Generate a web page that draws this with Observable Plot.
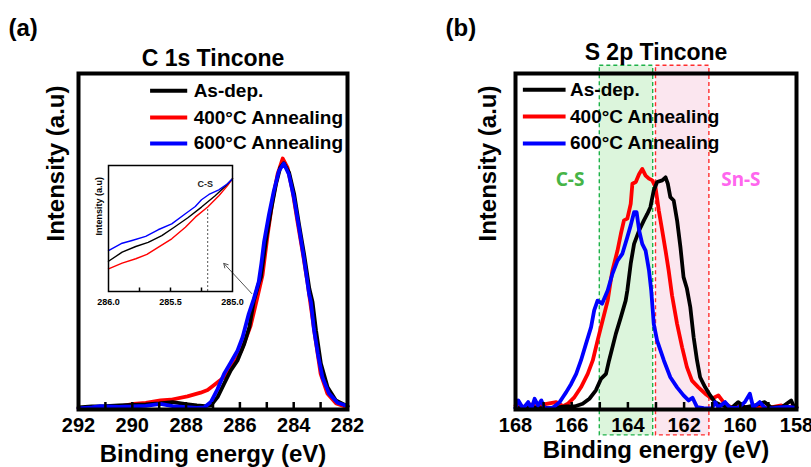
<!DOCTYPE html>
<html>
<head>
<meta charset="utf-8">
<script src="https://cdn.jsdelivr.net/npm/d3@7"></script>
<script src="https://cdn.jsdelivr.net/npm/@observablehq/plot@0.6"></script>
<style>
  html, body { margin: 0; padding: 0; background: #fff; }
  #root { position: relative; width: 811px; height: 467px; overflow: hidden; background: #fff; }
</style>
</head>
<body>
<div id="root"></div>
<script>
// ---------- data ----------
const seriesNames = ["As-dep.", "400°C Annealing", "600°C Annealing"];
const seriesColors = ["#000000", "#ff0000", "#0000ff"];

// (a) C 1s Tincone
const c1sTicks = [292, 291, 290, 289, 288, 287, 286, 285, 284, 283, 282];
const c1sTickLabels = [292, 290, 288, 286, 284, 282];

const c1sBlackEnergy = [292.0, 291.5, 291.0, 290.5, 290.0, 289.5, 289.0, 288.5, 288.0, 287.6, 287.3, 287.08, 286.83, 286.59, 286.34, 286.09, 285.84, 285.65, 285.48, 285.3, 285.22, 285.04, 284.85, 284.66, 284.5, 284.37, 284.17, 283.98, 283.8, 283.61, 283.42, 283.3, 283.17, 282.99, 282.74, 282.43, 282.06, 282.0];
const c1sBlackIntensity = [0.6, 0.9, 1.0, 1.2, 1.4, 1.5, 1.8, 2.2, 1.6, 1.2, 1.0, 1.2, 3.7, 7.6, 11.6, 14.6, 19.5, 24.5, 32.4, 37.5, 39.4, 50, 59, 67, 72, 73.3, 70.5, 64, 55, 46, 36, 32, 23.5, 13.7, 6.6, 2.7, 1.2, 1.0];

const c1sRedEnergy = [292.0, 291.5, 290.93, 290.44, 289.95, 289.5, 288.95, 288.57, 287.95, 287.46, 287.2, 286.97, 286.59, 286.22, 285.95, 285.84, 285.6, 285.35, 285.16, 284.97, 284.79, 284.6, 284.41, 284.23, 284.04, 283.86, 283.67, 283.48, 283.36, 283.2, 283.0, 282.75, 282.42, 282.1, 282.0];
const c1sRedIntensity = [0.3, 0.5, 0.7, 0.9, 1.7, 2.0, 2.7, 2.9, 3.9, 5.0, 5.8, 7.2, 9.6, 13.6, 17.5, 19.8, 25, 33.4, 40, 52, 62, 70, 74.7, 72, 65, 56, 47, 37.5, 30.5, 21.5, 10.7, 4.8, 1.8, 0.9, 0.8];

const c1sBlueEnergy = [292.0, 291.5, 291.2, 290.5, 290.0, 289.5, 288.95, 288.5, 288.0, 287.6, 287.33, 287.08, 286.83, 286.59, 286.34, 286.09, 285.9, 285.67, 285.48, 285.3, 285.2, 285.1, 284.92, 284.74, 284.55, 284.37, 284.18, 283.99, 283.8, 283.62, 283.43, 283.36, 283.25, 283.1, 282.93, 282.69, 282.37, 282.06, 282.0];
const c1sBlueIntensity = [0.3, 0.6, 1.0, 0.8, 0.9, 1.1, 1.7, 1.0, 0.7, 0.5, 0.6, 2.2, 6.1, 10.6, 14, 17.5, 21.5, 28.5, 33, 38, 43.5, 50, 58, 65, 71, 73.2, 70, 63, 54, 45, 34.5, 32, 24, 16.5, 9.5, 4.8, 2, 1.2, 1.0];

// (a) inset
const insetTicks = [285.75, 285.5, 285.25];
const insetTickLabels = [286.0, 285.5, 285.0];
const insetBlackEnergy = [286.0, 285.89, 285.78, 285.68, 285.57, 285.47, 285.36, 285.25, 285.14, 285.06, 285.0];
const insetBlackIntensity = [24, 31.2, 35.7, 39, 44.4, 51, 58.5, 67, 76, 83.3, 89.4];
const insetRedEnergy = [286.0, 285.89, 285.78, 285.69, 285.6, 285.49, 285.38, 285.3, 285.2, 285.11, 285.04, 285.0];
const insetRedIntensity = [18, 22.5, 26, 29.4, 35, 41.8, 51, 59, 67, 76, 84, 89.4];
const insetBlueEnergy = [286.0, 285.89, 285.81, 285.7, 285.6, 285.49, 285.38, 285.3, 285.25, 285.19, 285.11, 285.04, 285.0];
const insetBlueIntensity = [32.5, 38.3, 40.5, 43.7, 49, 53.7, 61.7, 67.5, 72.8, 77, 80.7, 85.5, 89.4];
const insetMarkerEnergy = [285.2];

// (b) S 2p Tincone
const s2pTicks = [168, 167, 166, 165, 164, 163, 162, 161, 160, 159, 158];
const s2pTickLabels = [168, 166, 164, 162, 160, 158];
const regionNames = ["C-S", "Sn-S"];
const regionFrom = [165.0, 163.0];
const regionTo = [163.1, 161.1];

const s2pBlackEnergy = [168.0, 167.7, 167.4, 167.1, 166.8, 166.5, 166.2, 165.9, 165.61, 165.37, 165.14, 164.96, 164.78, 164.67, 164.55, 164.43, 164.25, 164.08, 164.02, 163.9, 163.78, 163.6, 163.43, 163.31, 163.2, 163.08, 162.96, 162.78, 162.66, 162.58, 162.49, 162.37, 162.25, 162.13, 162.02, 161.9, 161.78, 161.66, 161.54, 161.43, 161.25, 161.07, 160.9, 160.66, 160.31, 160.08, 159.84, 159.48, 159.13, 158.9, 158.5, 158.19, 158.07, 158.0];
const s2pBlackIntensity = [0.5, 0.3, 0.6, 0.4, 0.5, 0.6, 0.9, 0.9, 1.7, 3.2, 5.7, 9.1, 10.6, 14.6, 18.5, 22.5, 27.5, 32.4, 35.4, 43.4, 49.3, 53.3, 56.3, 58.2, 60.2, 65.2, 67.7, 68.2, 69.1, 67.2, 63.2, 62.2, 56.3, 48.3, 39.4, 36, 30.5, 21.5, 14.6, 9.6, 6.6, 4.2, 2.2, 1.2, 0.5, 2.2, 0.6, 1.2, 2.2, 0.6, 0.8, 2.7, 0.5, 0.6];

const s2pRedEnergy = [168.0, 167.8, 167.61, 167.45, 167.26, 167.1, 166.9, 166.7, 166.55, 166.31, 166.14, 165.9, 165.67, 165.43, 165.25, 165.08, 164.9, 164.72, 164.61, 164.55, 164.37, 164.25, 164.14, 164.02, 163.9, 163.84, 163.72, 163.6, 163.49, 163.37, 163.25, 163.13, 163.02, 162.9, 162.78, 162.66, 162.55, 162.43, 162.25, 162.07, 161.9, 161.72, 161.49, 161.25, 161.01, 160.78, 160.6, 160.31, 160.0, 159.7, 159.4, 159.0, 158.54, 158.36, 158.19, 158.0];
const s2pRedIntensity = [1.2, 1.0, 0.5, 1.5, 0.9, 1.0, 1.7, 2.0, 2.2, 1.0, 1.7, 3.7, 6.6, 10.6, 14.6, 20.5, 26.5, 32.4, 38.4, 41.4, 47.3, 52.3, 56.3, 56.8, 61.2, 67.2, 67.7, 70.1, 71.6, 69.6, 68.7, 68.2, 66.2, 59.2, 53.3, 47.3, 41.4, 34, 25.5, 18.5, 12.6, 8.6, 6.6, 4.7, 3.2, 4.2, 2.2, 0.5, 1.0, 0.6, 1.0, 0.5, 1.2, 0.5, 0.9, 0.7];

const s2pBlueEnergy = [168.0, 167.9, 167.73, 167.55, 167.43, 167.32, 167.2, 167.08, 166.96, 166.8, 166.67, 166.43, 166.31, 166.2, 166.02, 165.84, 165.67, 165.49, 165.31, 165.2, 165.08, 164.92, 164.72, 164.55, 164.37, 164.2, 164.02, 163.9, 163.78, 163.69, 163.6, 163.49, 163.37, 163.25, 163.17, 163.12, 163.08, 162.96, 162.72, 162.49, 162.25, 162.02, 161.84, 161.7, 161.54, 161.3, 161.01, 160.9, 160.78, 160.54, 160.37, 160.08, 159.84, 159.66, 159.54, 159.31, 159.13, 158.9, 158.6, 158.3, 158.0];
const s2pBlueIntensity = [0.5, 2.7, 0.3, 2.2, 0.3, 3.2, 1.2, 2.7, 0.3, 0.5, 0.5, 2.2, 3.7, 5.1, 7.6, 10.6, 14.6, 19.6, 24.5, 29.5, 32.4, 31.5, 35.4, 40.4, 44.3, 46.3, 51.3, 54.8, 58.7, 58.7, 53.3, 49.3, 47.3, 41.4, 35.4, 30, 25.5, 20.5, 14.6, 9.6, 6.6, 4.2, 2.7, 3.5, 0.7, 0.4, 0.3, 2.2, 0.6, 2.2, 0.5, 0.5, 2.2, 4.7, 0.6, 2.2, 0.5, 0.3, 0.6, 0.8, 0.5];

// ---------- helpers ----------
const FONT = '"Liberation Sans", Arial, sans-serif';
const rows = (X, Y) => X.map((x, i) => ({x, y: Y[i]}));
const root = document.getElementById("root");
function place(node, left, top) {
  node.style.position = "absolute";
  node.style.left = left + "px";
  node.style.top = top + "px";
  root.appendChild(node);
}
function curves(sets, width) {
  // draw order: red, black, blue
  const order = [1, 0, 2];
  return order.map(i => Plot.line(rows(sets[i][0], sets[i][1]), {
    x: "x", y: "y", stroke: seriesColors[i], strokeWidth: width,
    strokeLinejoin: "round", strokeLinecap: "round"
  }));
}
function legendMarks(x1, x2, xt, ys) {
  return seriesNames.flatMap((name, i) => [
    Plot.ruleY([ys[i]], {y: d => d, x1, x2, stroke: seriesColors[i], strokeWidth: 4}),
    Plot.text([name], {x: xt, y: ys[i], text: d => d, textAnchor: "start", lineAnchor: "middle",
      fontSize: 19, fontWeight: "bold", fill: "#000"})
  ]);
}
function axisMarks(ticks, labels, frameH, titleDy, yTitleDx) {
  return [
    Plot.ruleX(ticks, {x: d => d, insetTop: frameH - 7, stroke: "#000", strokeWidth: 2.5}),
    Plot.text(labels, {x: d => d, text: d => String(d), frameAnchor: "bottom", dy: 16.5,
      lineAnchor: "middle", fontSize: 20, fontWeight: "bold", fill: "#000"}),
    Plot.text(["Binding energy (eV)"], {text: d => d, frameAnchor: "bottom", dy: titleDy,
      lineAnchor: "middle", fontSize: 24, fontWeight: "bold", fill: "#000"}),
    Plot.text(["Intensity (a.u)"], {text: d => d, frameAnchor: "left", dx: yTitleDx, rotate: -90,
      lineAnchor: "middle", fontSize: 24, fontWeight: "bold", fill: "#000"})
  ];
}

// ---------- panel (a) ----------
const panelA = Plot.plot({
  width: 400, height: 467,
  marginLeft: 78, marginRight: 53, marginTop: 73, marginBottom: 58,
  x: {domain: [292, 282], axis: null},
  y: {domain: [0, 100], axis: null},
  style: {fontFamily: FONT, background: "transparent", overflow: "visible"},
  marks: [
    Plot.arrow([0], {x1: 285.56, y1: 34.5, x2: 286.6, y2: 43.5, stroke: "#555", strokeWidth: 1, headLength: 7}),
    ...curves([[c1sBlackEnergy, c1sBlackIntensity], [c1sRedEnergy, c1sRedIntensity], [c1sBlueEnergy, c1sBlueIntensity]], 3.8),
    Plot.frame({stroke: "#000", strokeWidth: 4}),
    ...axisMarks(c1sTicks, c1sTickLabels, 336, 44.5, -22),
    Plot.text(["C 1s Tincone"], {text: d => d, frameAnchor: "top", dy: -15, lineAnchor: "middle",
      fontSize: 23, fontWeight: "bold", fill: "#000"}),
    Plot.text(["(a)"], {text: d => d, frameAnchor: "top-left", dx: -70, dy: -45, textAnchor: "start",
      lineAnchor: "middle", fontSize: 24, fontWeight: "bold", fill: "#000"}),
    ...legendMarks(289.32, 287.94, 287.72, [94.9, 86.9, 79.2])
  ]
});
place(panelA, 0, 0);

// ---------- inset ----------
const inset = Plot.plot({
  width: 150, height: 155,
  marginLeft: 20, marginRight: 6, marginTop: 7, marginBottom: 22,
  x: {domain: [286, 285], axis: null},
  y: {domain: [0, 100], axis: null},
  style: {fontFamily: FONT, background: "transparent", overflow: "visible"},
  marks: [
    Plot.ruleX(insetMarkerEnergy, {x: d => d, y1: 0, y2: 66, stroke: "#555", strokeWidth: 1, strokeDasharray: "2,2"}),
    ...curves([[insetBlackEnergy, insetBlackIntensity], [insetRedEnergy, insetRedIntensity], [insetBlueEnergy, insetBlueIntensity]], 1.4),
    Plot.frame({stroke: "#000", strokeWidth: 1.5}),
    Plot.ruleX(insetTicks, {x: d => d, insetTop: 126 - 3.5, stroke: "#000", strokeWidth: 1.5}),
    Plot.text(insetTickLabels, {x: d => d, text: d => d.toFixed(1), frameAnchor: "bottom", dy: 10.5,
      lineAnchor: "middle", fontSize: 9, fontWeight: "bold", fill: "#000"}),
    Plot.text(["Intensity (a.u)"], {text: d => d, frameAnchor: "left", dx: -9, dy: 7, rotate: -90,
      lineAnchor: "middle", fontSize: 9, fontWeight: "bold", fill: "#000"}),
    Plot.text(["C-S"], {text: d => d, x: 285.22, y: 85, lineAnchor: "middle", fontSize: 9, fontWeight: "bold", fill: "#222"})
  ]
});
place(inset, 88, 158);

// ---------- panel (b) ----------
const regionFill = ["#dcf5dc", "#fbe6ef"];
const regionStroke = ["#1fb24a", "#ff2d2d"];
const regionText = ["#46b446", "#ff66ee"];
const regionLabelX = [166.06, 159.98];

const panelB = Plot.plot({
  width: 400, height: 467,
  marginLeft: 104, marginRight: 15, marginTop: 73, marginBottom: 58,
  x: {domain: [168, 158], axis: null},
  y: {domain: [0, 100], axis: null},
  style: {fontFamily: FONT, background: "transparent", overflow: "visible"},
  marks: [
    ...regionNames.map((n, i) => Plot.rect([n], {
      x1: regionFrom[i], x2: regionTo[i], y1: -7.7, y2: 102.3,
      fill: regionFill[i], stroke: regionStroke[i], strokeWidth: 1.4, strokeDasharray: "4,3"
    })),
    ...regionNames.map((n, i) => Plot.text([n], {
      text: d => d, x: regionLabelX[i], y: 68.2, lineAnchor: "middle",
      fontSize: 19, fontWeight: "bold", fill: regionText[i], fontFamily: '"Noto Sans", sans-serif'
    })),
    ...curves([[s2pBlackEnergy, s2pBlackIntensity], [s2pRedEnergy, s2pRedIntensity], [s2pBlueEnergy, s2pBlueIntensity]], 3.8),
    Plot.frame({stroke: "#000", strokeWidth: 4}),
    ...axisMarks(s2pTicks, s2pTickLabels, 336, 40.5, -27),
    Plot.text(["S 2p Tincone"], {text: d => d, frameAnchor: "top", dy: -21, lineAnchor: "middle",
      fontSize: 23, fontWeight: "bold", fill: "#000"}),
    Plot.text(["(b)"], {text: d => d, frameAnchor: "top-left", dx: -70, dy: -45, textAnchor: "start",
      lineAnchor: "middle", fontSize: 24, fontWeight: "bold", fill: "#000"}),
    ...legendMarks(167.72, 166.2, 166.06, [95.2, 87.2, 79.2])
  ]
});
place(panelB, 411, 0);
</script>
</body>
</html>
